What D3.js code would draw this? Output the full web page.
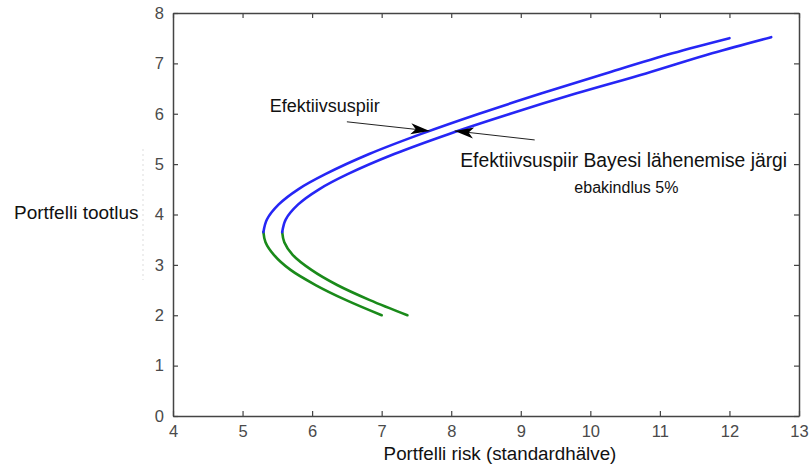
<!DOCTYPE html>
<html>
<head>
<meta charset="utf-8">
<script src="https://cdn.jsdelivr.net/npm/d3@7"></script>
<style>
  body { margin: 0; background: #fff; }
  text { font-family: "Liberation Sans", Arial, Helvetica, sans-serif; }
</style>
</head>
<body>
<div id="chart"></div>
<script>
// efektiivsuspiir (ülemine/vasak kõver), [risk, tootlus]
const frontLow = [[7.00, 2.00], [6.49, 2.30], [6.05, 2.60], [5.69, 2.90], [5.45, 3.20], [5.33, 3.45], [5.30, 3.65]];
const frontHigh = [[5.30, 3.65], [5.35, 3.90], [5.52, 4.20], [5.80, 4.50], [6.19, 4.80], [6.82, 5.20], [7.57, 5.60], [8.40, 6.00], [9.29, 6.40], [10.22, 6.80], [11.18, 7.20], [12.00, 7.50]];
// Bayesi lähenemise järgi
const bayesLow = [[7.37, 2.00], [6.83, 2.30], [6.36, 2.60], [5.99, 2.90], [5.72, 3.20], [5.60, 3.45], [5.57, 3.65]];
const bayesHigh = [[5.57, 3.65], [5.62, 3.90], [5.80, 4.20], [6.10, 4.50], [6.51, 4.80], [7.18, 5.20], [7.97, 5.60], [8.85, 6.00], [9.79, 6.40], [10.80, 6.80], [11.75, 7.20], [12.60, 7.52]];

const xTicks = [4, 5, 6, 7, 8, 9, 10, 11, 12, 13];
const yTicks = [0, 1, 2, 3, 4, 5, 6, 7, 8];

// nooled: [alguspunkt, tipp]
const arrows = [
  [[6.50, 5.84], [7.69, 5.66]],
  [[9.20, 5.48], [8.05, 5.66]]
];
const notes = [
  { x: 5.39, y: 6.04, text: "Efektiivsuspiir", size: 18 },
  { x: 8.13, y: 4.94, text: "Efektiivsuspiir Bayesi lähenemise järgi", size: 19.3 },
  { x: 9.77, y: 4.43, text: "ebakindlus 5%", size: 16 }
];

const width = 810, height = 468;
const x = d3.scaleLinear().domain([4, 13]).range([173, 799]);
const y = d3.scaleLinear().domain([0, 8]).range([416, 13]);

const svg = d3.select("#chart").append("svg")
  .attr("width", width)
  .attr("height", height);

svg.append("defs").append("marker")
  .attr("id", "head")
  .attr("markerUnits", "userSpaceOnUse")
  .attr("viewBox", "-20 -6 22 12")
  .attr("refX", 0).attr("refY", 0)
  .attr("markerWidth", 22).attr("markerHeight", 12)
  .attr("orient", "auto")
  .append("path")
  .attr("d", "M0,0 L-19,-5.5 L-14,0 L-19,5.5 Z")
  .attr("fill", "#000");

// raam + teljed
const axisColor = "#444";
function styleAxis(g, labels) {
  g.select(".domain").attr("stroke", axisColor).attr("stroke-width", 1.5);
  g.selectAll(".tick line").attr("stroke", axisColor).attr("stroke-width", 1.2);
  g.selectAll(".tick text")
    .attr("fill", "#4a4a4a")
    .style("font-size", "16.5px")
    .style("font-family", "Liberation Sans, Arial, sans-serif");
  if (!labels) g.selectAll(".tick text").remove();
}

svg.append("g").attr("transform", "translate(0,416)")
  .call(d3.axisBottom(x).tickValues(xTicks).tickSizeInner(-5).tickSizeOuter(0).tickPadding(9))
  .call(g => styleAxis(g, true));
svg.append("g").attr("transform", "translate(0,13)")
  .call(d3.axisTop(x).tickValues(xTicks).tickSizeInner(-5).tickSizeOuter(0))
  .call(g => styleAxis(g, false));
svg.append("g").attr("transform", "translate(173,0)")
  .call(d3.axisLeft(y).tickValues(yTicks).tickSizeInner(-5).tickSizeOuter(0).tickPadding(9))
  .call(g => styleAxis(g, true));
svg.append("g").attr("transform", "translate(799,0)")
  .call(d3.axisRight(y).tickValues(yTicks).tickSizeInner(-5).tickSizeOuter(0))
  .call(g => styleAxis(g, false));

// kahvatu jälg algsest y-sildist
svg.append("line")
  .attr("x1", 143).attr("x2", 143)
  .attr("y1", y(5.3)).attr("y2", y(2.7))
  .attr("stroke", "#ddd")
  .attr("stroke-dasharray", "2,3");

const line = d3.line()
  .x(d => x(d[0]))
  .y(d => y(d[1]))
  .curve(d3.curveCatmullRom);

const curves = [
  { data: frontLow, color: "#1a8a1a" },
  { data: bayesLow, color: "#1a8a1a" },
  { data: frontHigh, color: "#2626f5" },
  { data: bayesHigh, color: "#2626f5" }
];

svg.selectAll("path.curve")
  .data(curves)
  .enter()
  .append("path")
  .attr("class", "curve")
  .attr("d", d => line(d.data))
  .attr("fill", "none")
  .attr("stroke", d => d.color)
  .attr("stroke-width", 2.6)
  .attr("stroke-linecap", "round");

svg.selectAll("line.arrow")
  .data(arrows)
  .enter()
  .append("line")
  .attr("class", "arrow")
  .attr("x1", d => x(d[0][0]))
  .attr("y1", d => y(d[0][1]))
  .attr("x2", d => x(d[1][0]))
  .attr("y2", d => y(d[1][1]))
  .attr("stroke", "#222")
  .attr("stroke-width", 1)
  .attr("marker-end", "url(#head)");

svg.selectAll("text.note")
  .data(notes)
  .enter()
  .append("text")
  .attr("class", "note")
  .attr("x", d => x(d.x))
  .attr("y", d => y(d.y))
  .style("font-size", d => d.size + "px")
  .attr("fill", "#111")
  .text(d => d.text);

// telgede pealkirjad
svg.append("text")
  .attr("x", 500).attr("y", 460)
  .attr("text-anchor", "middle")
  .style("font-size", "18.8px")
  .attr("fill", "#111")
  .text("Portfelli risk (standardhälve)");

svg.append("text")
  .attr("x", 14).attr("y", 219)
  .style("font-size", "19px")
  .attr("fill", "#111")
  .text("Portfelli tootlus");
</script>
</body>
</html>
